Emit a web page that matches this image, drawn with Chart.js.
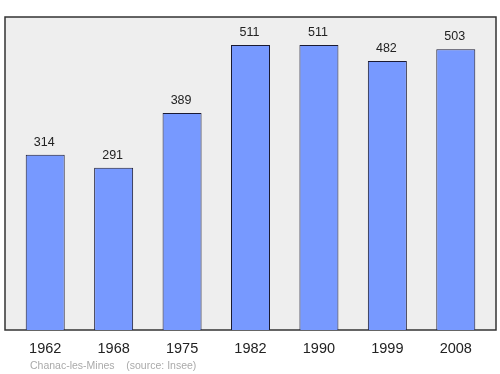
<!DOCTYPE html>
<html>
<head>
<meta charset="utf-8">
<script src="https://cdn.jsdelivr.net/npm/chart.js@4"></script>
<style>
  body { margin: 0; background: #fff; }
  #wrap { position: relative; width: 500px; height: 374px; }
</style>
</head>
<body>
<div id="wrap"><canvas id="chart"></canvas></div>
<script>
// Population data (Insee)
const years = ['1962', '1968', '1975', '1982', '1990', '1999', '2008'];
const population = [314, 291, 389, 511, 511, 482, 503];
const sourceText = 'Chanac-les-Mines    (source: Insee)';

const fontFamily = '"Liberation Sans", Arial, Helvetica, sans-serif';

// grey frame behind the bars, plus value labels and footer
const framePlugin = {
  id: 'frame',
  beforeDraw(chart) {
    const { ctx, chartArea } = chart;
    const x0 = chartArea.left - 6, x1 = chartArea.right + 6;
    ctx.save();
    ctx.fillStyle = '#eeeeee';
    ctx.fillRect(x0, chartArea.top, x1 - x0, chartArea.bottom - chartArea.top);
    ctx.strokeStyle = '#333333';
    ctx.lineWidth = 1.5;
    ctx.strokeRect(x0, chartArea.top, x1 - x0, chartArea.bottom - chartArea.top);
    ctx.restore();
  },
  afterDatasetsDraw(chart) {
    const { ctx } = chart;
    const meta = chart.getDatasetMeta(0);
    ctx.save();
    ctx.fillStyle = '#222';
    ctx.font = '12.5px ' + fontFamily;
    ctx.textAlign = 'center';
    ctx.textBaseline = 'alphabetic';
    meta.data.forEach((bar, i) => {
      ctx.fillText(String(population[i]), bar.x - 1, bar.y - 9);
    });
    ctx.fillStyle = '#aaaaaa';
    ctx.font = '10.5px ' + fontFamily;
    ctx.textAlign = 'left';
    ctx.fillText(sourceText, chart.chartArea.left + 19, 369);
    ctx.restore();
  }
};

new Chart(document.getElementById('chart'), {
  type: 'bar',
  data: {
    labels: years,
    datasets: [{
      data: population,
      backgroundColor: '#7799ff',
      borderColor: '#1a1a33',
      borderWidth: 1,
      barPercentage: 0.57,
      categoryPercentage: 1
    }]
  },
  options: {
    responsive: true,
    maintainAspectRatio: false,
    animation: false,
    layout: { padding: { left: 11, right: 10, top: 17, bottom: 0 } },
    plugins: { legend: { display: false }, tooltip: { enabled: false } },
    scales: {
      x: {
        grid: { display: false, drawTicks: false },
        border: { display: false },
        ticks: { color: '#222', font: { size: 14.5, family: fontFamily }, padding: 10 },
        afterFit(scale) { scale.height = 44; }
      },
      y: {
        display: false,
        min: 0,
        max: 561
      }
    }
  },
  plugins: [framePlugin]
});
</script>
</body>
</html>
